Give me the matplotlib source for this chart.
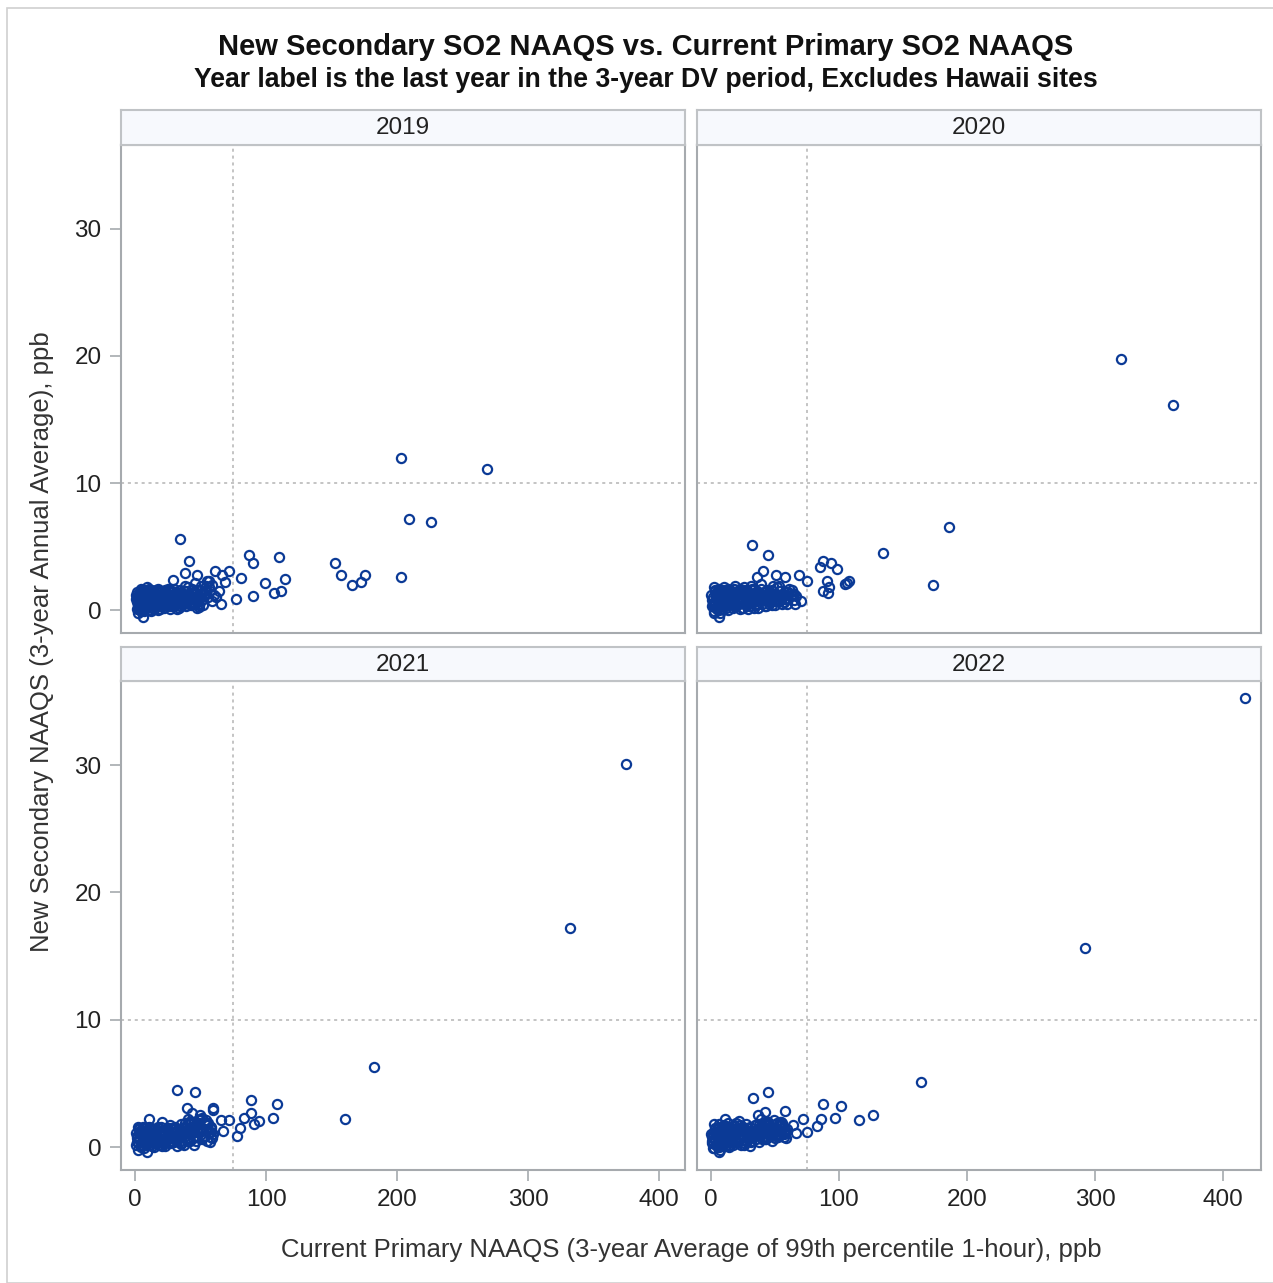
import matplotlib
matplotlib.use("Agg")
import matplotlib.pyplot as plt
from matplotlib.patches import Rectangle

plt.rcParams['font.family'] = ['Liberation Sans', 'DejaVu Sans']

# --- data ---
years = ['2019', '2020', '2021', '2022']

x_2019 = [1.2, 1.8, 2.5, 3.1, 3.6, 4.2, 4.9, 5.5, 6.3, 7.0, 7.4, 8.1, 8.6, 9.2, 9.9, 10.5, 11.0, 11.8, 12.4, 13.1,
          13.9, 14.5, 15.2, 16.0, 16.8, 17.5, 18.1, 18.9, 19.6, 20.4, 21.2, 22.0, 22.7, 23.5, 24.3, 25.1, 26.0, 26.8,
          27.6, 28.5, 29.3, 30.2, 31.0, 31.9, 32.8, 33.6, 34.5, 35.4, 36.3, 37.2, 38.1, 39.0, 40.0, 41.2, 42.5, 43.6,
          44.8, 46.0, 47.3, 48.5, 49.8, 51.0, 52.4, 53.9, 55.5, 57.0, 58.6, 60.2,
          2.1, 3.9, 6.8, 9.5, 12.0, 14.8, 17.2, 20.0, 23.0, 26.5, 30.0, 34.0, 38.5, 2.8, 5.1, 7.7, 10.2, 13.5, 15.9,
          19.0, 21.8, 24.9, 28.0, 32.0, 36.0, 40.5, 44.0, 1.5, 4.5, 8.9, 11.5, 16.5, 25.5, 29.8, 33.0, 37.8, 42.0,
          45.5, 50.5, 54.8, 59.0, 47.0, 52.0, 56.2,
          34.4, 41.0, 37.9, 47.0, 28.8, 60.8, 66.4, 71.8, 68.7, 56.2, 80.9, 87.0, 89.8, 110.0, 99.0, 114.3, 105.9,
          111.5, 89.8, 77.3, 65.6, 61.8, 63.9, 152.7, 157.0, 166.0, 172.8, 175.8, 203.0, 209.0, 225.7, 203.0,
          268.7, 48.9, 5.8]
y_2019 = [0.1, 0.6, 1.1, 0.3, 1.5, 0.8, -0.1, 1.3, 0.5, 1.6, 0.2, 1.0, 0.6, 1.4, 0.0, 0.9, 1.7, 0.4, 1.2, 0.7,
          1.5, 0.1, 1.0, 0.5, 1.3, 1.7, 0.3, 0.9, 1.4, 0.6, 1.1, 0.2, 1.6, 0.8, 1.3, 0.4, 1.0, 1.5,
          0.6, 1.2, 0.3, 0.9, 1.4, 0.7, 1.1, 0.2, 1.6, 0.8, 1.3, 0.5, 1.0, 1.5, 0.7, 1.2, 0.4, 1.7,
          0.9, 1.4, 0.6, 1.1, 1.6, 0.8, 1.3, 1.9, 1.0, 1.5, 2.0, 1.2,
          -0.2, 0.0, -0.1, 0.3, -0.1, 0.4, 0.0, 0.3, 0.5, 0.1, 0.4, 0.3, 0.6, 0.8, 0.4, 1.2, 1.6, 0.3, 1.6,
          0.1, 0.8, 1.7, 0.9, 0.5, 1.1, 1.8, 0.6, 1.4, 1.7, 1.8, 0.0, 0.8, 0.7, 1.7, 1.3, 1.9, 1.1,
          2.1, 1.9, 2.3, 0.7, 0.2, 0.4, 1.8,
          5.6, 3.86, 2.94, 2.75, 2.4, 3.07, 2.75, 3.07, 2.23, 2.33, 2.54, 4.33, 3.67, 4.15, 2.13, 2.41, 1.31,
          1.5, 1.15, 0.87, 0.52, 1.0, 1.52, 3.7, 2.76, 1.94, 2.23, 2.73, 2.57, 7.14, 6.96, 12.0,
          11.1, 0.26, -0.58]
# more sites inside the dense cluster near the origin
xf_2019 = [0.5, 1.9, 3.3, 4.6, 6.0, 7.2, 8.4, 9.7, 10.9, 12.2, 13.6, 14.9, 16.2, 17.6, 18.8, 20.1, 21.5, 22.8,
           24.1, 25.4, 26.7, 28.0, 29.4, 30.7, 32.0, 33.4, 34.8, 36.1, 37.5, 38.9, 40.3, 41.7, 43.1, 44.5, 45.9,
           47.4, 48.8, 50.3,
           0.9, 2.4, 4.0, 5.9, 7.9, 9.8, 11.7, 13.8, 15.6, 17.9, 19.7, 21.9, 23.9, 26.1, 28.2, 30.6, 32.6, 35.0,
           37.4, 39.6, 41.9, 44.2, 46.6, 49.1, 51.7, 54.2]
yf_2019 = [0.9, 0.4, 1.3, 0.2, 0.9, 1.4, 0.5, 1.1, 0.3, 1.6, 0.9, 0.5, 1.2, 0.6, 1.5, 1.0, 0.4, 1.3, 0.7, 1.5,
           0.3, 1.5, 0.8, 1.2, 0.1, 0.9, 0.5, 1.2, 0.8, 0.3, 1.3, 0.6, 1.0, 1.4, 0.8, 1.6, 0.4, 1.3,
           1.2, 0.2, 0.6, 1.0, 0.6, 1.0, 1.3, 1.0, 0.8, 1.1, 0.5, 1.4, 0.4, 0.8, 0.4, 1.2, 0.8, 0.6, 1.5, 1.1,
           0.5, 1.3, 1.1, 0.5, 1.4, 1.6]

x_2020 = [0.8, 1.5, 2.2, 2.9, 3.5, 4.1, 4.8, 5.4, 6.1, 6.7, 7.3, 8.0, 8.7, 9.3, 10.0, 10.8, 11.5, 12.2, 13.0,
          13.7, 14.4, 15.2, 16.0, 16.9, 17.7, 18.5, 19.4, 20.2, 21.1, 22.0, 22.9, 23.8, 24.7, 25.6, 26.6, 27.5,
          28.5, 29.5, 30.5, 31.6, 32.7, 33.8, 35.0, 36.2, 37.4, 38.7, 40.0, 41.4, 42.8, 44.3, 45.8, 47.4, 49.0,
          50.7, 52.4, 54.2, 56.0, 58.0, 60.0, 62.2, 64.5, 66.8,
          1.1, 2.6, 4.4, 6.4, 8.4, 10.3, 12.6, 14.9, 17.3, 19.8, 22.4, 25.1, 27.9, 30.9, 34.0, 37.1, 40.6, 44.0,
          47.8, 51.5, 55.6, 3.2, 5.8, 9.0, 11.9, 15.6, 18.9, 23.3, 26.2, 29.0, 33.1, 36.7, 39.4, 43.2, 46.5,
          50.0, 53.3, 57.2, 61.0, 2.0, 7.6, 13.3, 16.7, 21.5, 31.2, 48.4, 59.3, 63.4,
          185.7, 134.4, 173.2, 32.3, 44.5, 87.2, 93.7, 85.4, 98.4, 40.4, 51.0, 58.0, 68.5, 75.0, 35.9, 90.6,
          107.8, 104.4, 106.0, 92.4, 87.5, 91.1, 70.3, 64.6, 58.8, 39.0, 6.0, 320.3, 361.0]
y_2020 = [0.3, 1.0, -0.1, 0.7, 1.5, 0.2, 1.2, 0.5, 1.7, -0.2, 0.9, 1.4, 0.1, 0.6, 1.8, 0.3, 1.1, 0.8, 1.6,
          0.0, 0.5, 1.3, 0.9, 0.2, 1.7, 0.6, 1.2, 0.4, 1.5, 0.8, 0.1, 1.0, 1.4, 0.5, 1.1, 0.7,
          1.6, 0.3, 0.9, 1.3, 0.6, 1.0, 0.4, 1.5, 0.8, 1.2, 0.5, 1.4, 0.9, 1.1, 0.6, 1.6, 1.0,
          1.3, 0.7, 1.5, 1.1, 0.9, 1.4, 1.2, 0.8, 1.1,
          0.8, 1.8, 1.0, 0.0, 1.1, 1.6, 0.4, 1.0, 1.4, 0.3, 1.7, 0.2, 0.9, 0.6, 1.7, 1.3, 0.8, 1.6,
          0.4, 1.8, 0.5, 0.4, 1.6, 1.5, 0.2, 0.7, 1.9, 0.9, 1.8, 0.1, 1.6, 0.2, 1.7, 0.3, 1.3,
          0.4, 1.9, 0.6, 1.7, -0.2, 0.3, 1.7, 1.4, 1.3, 1.9, 1.9, 0.5, 1.6,
          6.56, 4.46, 1.94, 5.12, 4.36, 3.88, 3.67, 3.36, 3.2, 3.1, 2.78, 2.62, 2.78, 2.28, 2.62, 2.31,
          2.31, 2.02, 2.15, 1.84, 1.52, 1.31, 0.71, 1.26, 1.44, 2.05, -0.52, 19.76, 16.14]
xf_2020 = [0.4, 1.8, 3.1, 4.5, 5.8, 7.0, 8.3, 9.6, 10.9, 12.3, 13.6, 14.9, 16.3, 17.6, 19.0, 20.4, 21.8, 23.2,
           24.6, 26.1, 27.6, 29.1, 30.6, 32.1, 33.7, 35.3, 36.9, 38.5, 40.2, 41.9, 43.6, 45.4, 47.2, 49.0, 50.9,
           52.8, 54.8, 56.9,
           1.3, 3.7, 6.2, 8.9, 11.6, 14.3, 17.1, 19.9, 22.8, 25.7, 28.8, 31.9, 35.1, 38.3, 41.7, 45.1, 48.7, 52.3,
           56.0, 59.8, 63.8, 65.9]
yf_2020 = [1.2, 0.4, 1.6, 0.1, 0.9, 1.3, 0.3, 1.5, 0.7, 1.2, 0.4, 1.6, 0.7, 1.1, 0.3, 1.4, 0.8, 1.6, 0.2, 1.2,
           0.5, 1.4, 0.9, 1.7, 0.2, 1.1, 0.5, 1.2, 0.9, 0.3, 1.5, 0.5, 1.2, 0.7, 1.3, 0.8, 1.2, 0.6,
           0.5, 1.1, 1.4, 0.5, 1.4, 0.7, 0.4, 1.1, 0.6, 1.6, 0.5, 1.3, 0.7, 1.1, 1.2, 0.8, 1.2, 0.9, 1.3, 0.9,
           1.3, 0.5]

x_2021 = [0.9, 1.6, 2.3, 3.0, 3.7, 4.3, 5.0, 5.6, 6.3, 7.0, 7.6, 8.3, 9.0, 9.7, 10.4, 11.1, 11.9, 12.6, 13.4,
          14.2, 15.0, 15.8, 16.6, 17.5, 18.3, 19.2, 20.1, 21.0, 21.9, 22.9, 23.8, 24.8, 25.8, 26.8, 27.9, 29.0,
          30.1, 31.2, 32.4, 33.6, 34.8, 36.0, 37.3, 38.6, 39.9, 41.2, 42.6, 44.0, 45.4, 46.9, 48.4, 49.9, 51.5,
          53.1, 54.7, 56.4, 58.1, 59.8,
          1.3, 2.7, 4.6, 6.6, 8.6, 10.7, 12.9, 15.3, 17.8, 20.4, 23.1, 25.9, 28.7, 31.7, 35.2, 38.0, 41.6, 44.7,
          47.6, 50.8, 54.0, 57.3, 3.4, 6.0, 9.3, 12.2, 16.2, 19.6, 24.3, 27.3, 30.5, 34.1, 37.7, 40.4, 43.3, 46.2,
          49.3, 52.4, 55.6, 58.7, 2.1, 7.9, 13.8, 18.8, 22.3, 26.4, 36.6, 39.3, 42.1, 45.0, 48.0, 51.2, 55.0, 57.9,
          374.8, 332.0, 182.5, 160.0, 31.8, 45.8, 88.5, 108.1, 39.4, 59.3, 59.5, 88.5, 105.1, 83.4, 94.9, 91.1,
          71.8, 65.6, 80.2, 77.6, 67.0, 49.6, 43.3, 20.4, 10.9, 46.6, 8.9, 35.1]
y_2021 = [0.2, 0.9, -0.2, 0.6, 1.3, 0.1, 1.0, 0.4, 1.5, -0.1, 0.7, 1.2, 0.3, 0.8, 1.6, 0.2, 1.0, 0.5, 1.4,
          0.0, 0.7, 1.1, 0.4, 1.5, 0.2, 0.9, 1.3, 0.5, 1.0, 0.1, 1.4, 0.6, 0.9, 0.3, 1.2, 0.7,
          0.4, 1.1, 0.6, 0.9, 0.3, 1.3, 0.8, 1.6, 0.5, 1.9, 1.0, 1.4, 2.0, 0.8, 1.7, 1.2, 1.5,
          0.9, 1.8, 1.1, 1.4, 1.0,
          0.7, 1.5, 0.0, 1.1, 0.3, 1.2, 0.1, 0.8, 1.6, 0.1, 1.2, 0.4, 1.5, 0.1, 0.5, 1.9, 0.5, 0.2,
          1.3, 0.6, 2.1, 0.4, 1.4, 1.6, 0.6, 1.5, 1.3, 1.6, 0.8, 1.5, 1.6, 1.4, 0.2, 2.2, 1.6, 0.9,
          2.2, 0.9, 1.9, 0.7, 1.6, 0.4, 0.6, 1.1, 0.3, 1.7, 1.1, 0.7, 1.8, 1.2, 1.5, 2.3, 0.5, 1.6,
          30.07, 17.2, 6.25, 2.18, 4.52, 4.33, 3.73, 3.42, 3.08, 3.03, 2.9, 2.69, 2.32, 2.32, 2.04, 1.85,
          2.11, 2.11, 1.51, 0.89, 1.25, 2.5, 2.64, 1.98, 2.17, 0.47, -0.37, 0.23]
xf_2021 = [0.5, 1.9, 3.2, 4.6, 5.9, 7.2, 8.5, 9.9, 11.2, 12.6, 14.0, 15.4, 16.8, 18.2, 19.7, 21.1, 22.6, 24.1,
           25.6, 27.2, 28.7, 30.3, 31.9, 33.5, 35.1, 36.8, 38.4, 40.1, 41.8, 43.6, 45.3, 47.1, 48.9, 50.7, 52.6,
           54.5, 56.4, 58.3,
           1.2, 3.5, 6.0, 8.6, 11.2, 13.9, 16.6, 19.4, 22.3, 25.2, 28.2, 31.2, 34.3, 37.5, 40.8, 44.1, 47.4, 50.9,
           54.3, 57.8, 41.0, 49.0]
yf_2021 = [1.1, 0.4, 1.5, 0.2, 0.8, 1.2, 0.2, 1.3, 0.6, 1.1, 0.3, 1.4, 0.7, 1.0, 0.2, 1.2, 0.7, 1.5, 0.3, 0.9,
           1.4, 0.6, 1.2, 0.8, 1.8, 1.0, 1.3, 0.6, 2.0, 1.1, 1.6, 0.9, 1.9, 1.3, 0.9, 1.7, 1.2, 0.8,
           0.4, 1.0, 1.3, 0.5, 1.4, 0.6, 0.3, 1.0, 0.6, 1.5, 0.4, 1.2, 0.8, 1.6, 1.1, 0.7, 1.3, 0.7, 1.9, 1.2,
           2.0, 2.1]

x_2022 = [0.7, 1.4, 2.1, 2.8, 3.4, 4.1, 4.7, 5.4, 6.0, 6.7, 7.4, 8.1, 8.8, 9.5, 10.2, 10.9, 11.7, 12.4, 13.2,
          14.0, 14.8, 15.6, 16.5, 17.3, 18.2, 19.1, 20.0, 20.9, 21.9, 22.8, 23.8, 24.8, 25.9, 26.9, 28.0, 29.1,
          30.2, 31.4, 32.6, 33.8, 35.0, 36.3, 37.6, 38.9, 40.3, 41.7, 43.1, 44.6, 46.1, 47.6, 49.2, 50.8, 52.5,
          54.2, 55.9, 57.7, 59.5,
          1.0, 2.5, 4.4, 6.3, 8.4, 10.5, 12.8, 15.1, 17.6, 20.2, 22.9, 25.6, 28.5, 31.5, 34.6, 37.9, 41.2, 44.3,
          47.2, 50.3, 53.6, 56.8, 3.1, 5.7, 9.1, 11.9, 15.9, 19.4, 24.0, 27.1, 30.4, 33.7, 37.2, 40.0, 42.9, 45.8,
          48.9, 52.0, 55.2, 58.4, 1.8, 7.7, 13.6, 18.6, 22.2, 26.3, 36.4, 39.2, 42.0, 44.9, 47.9, 51.1, 54.8, 57.8,
          417.0, 292.2, 164.0, 32.8, 44.5, 87.2, 101.6, 57.5, 42.4, 36.7, 71.9, 85.9, 96.6, 115.4, 126.3, 82.8,
          75.0, 66.7, 63.8, 57.3, 6.0, 11.2, 21.6]
y_2022 = [0.3, 1.1, -0.1, 0.7, 1.5, 0.2, 1.2, 0.5, 1.8, -0.2, 0.9, 1.4, 0.1, 0.6, 1.7, 0.3, 1.1, 0.8, 1.6,
          0.0, 0.5, 1.3, 0.9, 0.2, 1.7, 0.6, 1.2, 0.4, 1.5, 0.8, 0.2, 1.0, 1.4, 0.5, 1.1, 0.7,
          1.6, 0.4, 0.9, 1.3, 0.6, 1.0, 1.7, 1.5, 0.8, 1.2, 1.9, 1.4, 0.9, 1.6, 1.1, 1.8, 1.3,
          1.0, 1.6, 1.2, 1.4,
          0.8, 1.8, 1.0, 0.0, 1.1, 1.6, 0.4, 1.0, 1.4, 0.3, 1.7, 0.2, 0.9, 0.5, 1.7, 1.3, 0.8, 2.0,
          1.6, 0.7, 2.0, 1.0, 0.5, 1.6, 1.5, 0.2, 0.7, 1.9, 0.9, 1.8, 0.1, 1.3, 0.4, 1.8, 0.6, 1.3,
          2.1, 0.8, 1.9, 0.7, -0.1, 0.4, 1.9, 1.2, 1.3, 1.4, 1.2, 2.2, 0.6, 1.9, 0.5, 1.5, 2.0, 1.1,
          35.24, 15.66, 5.11, 3.89, 4.33, 3.42, 3.24, 2.82, 2.72, 2.5, 2.17, 2.17, 2.32, 2.11, 2.5, 1.64,
          1.2, 1.07, 1.72, 0.81, -0.37, 2.17, 2.04]
xf_2022 = [0.3, 1.7, 3.0, 4.4, 5.7, 7.0, 8.4, 9.7, 11.1, 12.5, 13.9, 15.3, 16.7, 18.1, 19.6, 21.0, 22.5, 24.0,
           25.5, 27.0, 28.6, 30.1, 31.7, 33.3, 34.9, 36.5, 38.2, 39.9, 41.6, 43.3, 45.1, 46.9, 48.7, 50.5, 52.4,
           54.3, 56.2, 58.1,
           1.1, 3.4, 5.9, 8.5, 11.1, 13.8, 16.5, 19.3, 22.2, 25.1, 28.1, 31.1, 34.2, 37.4, 40.7, 44.0, 47.3, 50.8,
           54.2, 57.7, 42.5, 51.5]
yf_2022 = [1.0, 0.3, 1.4, 0.1, 0.8, 1.3, 0.3, 1.5, 0.6, 1.2, 0.2, 1.5, 0.7, 1.1, 0.4, 1.3, 0.8, 1.6, 0.3, 1.0,
           1.5, 0.7, 1.2, 0.9, 1.7, 1.1, 1.4, 0.6, 1.9, 1.2, 1.7, 0.9, 1.5, 1.3, 1.0, 1.8, 1.5, 1.1,
           0.5, 1.1, 1.5, 0.6, 1.5, 0.7, 0.4, 1.2, 0.7, 1.6, 0.5, 1.3, 0.9, 1.5, 1.0, 0.8, 1.2, 0.9, 1.7, 1.3,
           1.8, 1.9]

xs = [x_2019 + xf_2019, x_2020 + xf_2020, x_2021 + xf_2021, x_2022 + xf_2022]
ys = [y_2019 + yf_2019, y_2020 + yf_2020, y_2021 + yf_2021, y_2022 + yf_2022]

x_ticks = [0, 100, 200, 300, 400]
y_ticks = [0, 10, 20, 30]
ref_x = 75
ref_y = 10

# --- layout in pixels ---
W, H = 1273, 1283
fig = plt.figure(figsize=(W / 100, H / 100), dpi=100)


def box(x0, y0, x1, y1):
    return [x0 / W, 1 - y1 / H, (x1 - x0) / W, (y1 - y0) / H]


frame = '#a6aaae'
mark = '#0b3a96'
cols = [(121, 685), (697, 1261)]
plot_rows = [(145, 633), (681, 1170)]
head_rows = [(110, 145), (647, 681)]
xlims = [(-10.7, 419.8), (-10.9, 429.7)]

# outer border
fig.patches.append(Rectangle((7 / W, 0), 1.2, 1 - 8 / H, transform=fig.transFigure,
                             fill=False, edgecolor='#d0d0d0', lw=1.2))

for i in range(4):
    r, c = divmod(i, 2)
    x0, x1 = cols[c]
    ax = fig.add_axes(box(x0, plot_rows[r][0], x1, plot_rows[r][1]))
    ax.axvline(ref_x, color='#b4b4b4', lw=1.1, dashes=(2, 2.5), zorder=1)
    ax.axhline(ref_y, color='#b4b4b4', lw=1.1, dashes=(2, 2.5), zorder=1)
    ax.plot(xs[i], ys[i], 'o', ms=6.6, mfc='none', mec=mark, mew=1.6, zorder=3)
    ax.set_xlim(*xlims[c])
    ax.set_ylim(-1.8, 36.6)
    ax.set_xticks(x_ticks)
    ax.set_yticks(y_ticks)
    for s in ax.spines.values():
        s.set_color(frame)
        s.set_linewidth(1.5)
    ax.tick_params(length=8, width=1.2, color=frame, labelsize=17.5, labelcolor='#222222', pad=6)
    ax.tick_params(axis='x', labelbottom=(r == 1), bottom=(r == 1))
    ax.tick_params(axis='y', labelleft=(c == 0), left=(c == 0))

    hx = fig.add_axes(box(x0, head_rows[r][0], x1, head_rows[r][1]))
    hx.set_facecolor('#f7f9fd')
    hx.set_xticks([])
    hx.set_yticks([])
    for s in hx.spines.values():
        s.set_color('#c0c3c6')
        s.set_linewidth(1.5)
    hx.text(0.5, 0.48, years[i], ha='center', va='center', fontsize=17.5, color='#222222',
            transform=hx.transAxes)

fig.text(646 / W, 1 - 47 / H, 'New Secondary SO2 NAAQS vs. Current Primary SO2 NAAQS',
         ha='center', va='center', fontsize=21, fontweight='bold', color='#111111')
fig.text(646 / W, 1 - 80 / H, 'Year label is the last year in the 3-year DV period, Excludes Hawaii sites',
         ha='center', va='center', fontsize=19.2, fontweight='bold', color='#111111')
fig.text(691 / W, 1 - 1250 / H, 'Current Primary NAAQS (3-year Average of 99th percentile 1-hour), ppb',
         ha='center', va='center', fontsize=18.5, color='#333333')
fig.text(42 / W, 1 - 642 / H, 'New Secondary NAAQS (3-year Annual Average), ppb',
         ha='center', va='center', rotation=90, fontsize=18.5, color='#333333')

fig.savefig('out.png', dpi=100, facecolor='white')
